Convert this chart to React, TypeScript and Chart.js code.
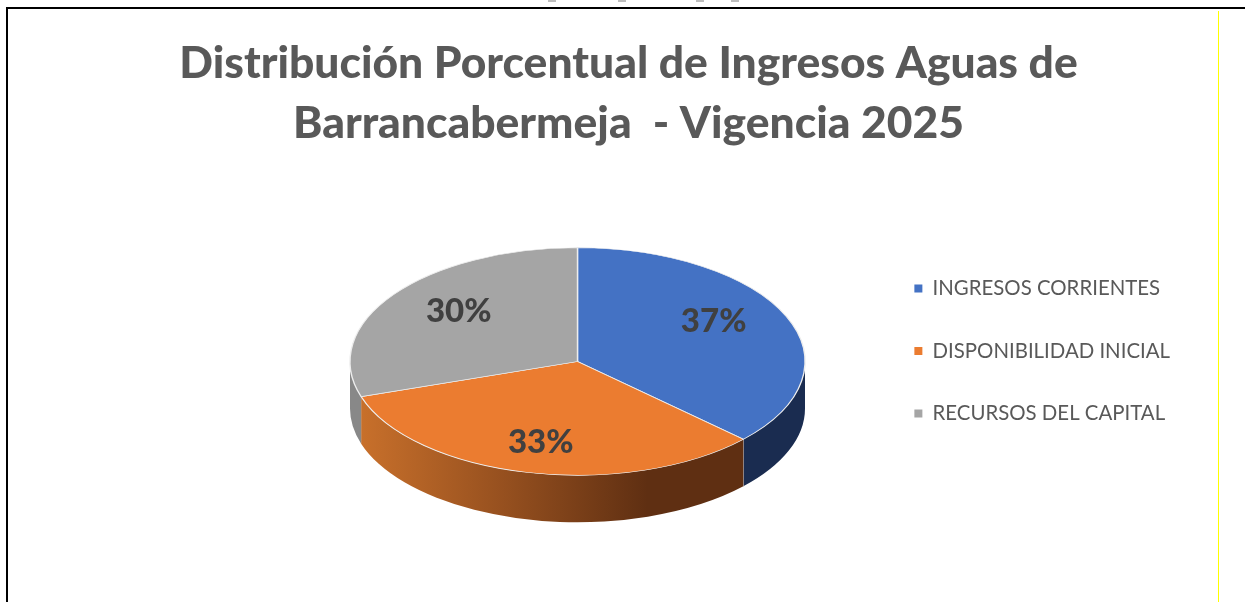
import React, { useEffect, useRef } from "react";
import { Chart, registerables } from "chart.js";

Chart.register(...registerables);

const categories = ["INGRESOS CORRIENTES", "DISPONIBILIDAD INICIAL", "RECURSOS DEL CAPITAL"];
const values = [37, 33, 30];
const topColors = ["#4472C4", "#EB7C30", "#A5A5A5"];
const titleLines = ["Distribución Porcentual de Ingresos Aguas de", "Barrancabermeja  - Vigencia 2025"];

const PIE_CENTER_X = 577.5;
const PIE_CENTER_Y = 361.5;
const PIE_RADIUS = 227.5;
const TILT = 0.5;
const DEPTH = 47;
const labelNudges = [[-10, -9], [-2, 3], [10, -3]];
const clippedTextSpecks = [552, 622, 700, 735];

const wallPaint = (ctx: CanvasRenderingContext2D, i: number) => {
  if (i === 1) {
    const g = ctx.createLinearGradient(PIE_CENTER_X - PIE_RADIUS + 10, 0, PIE_CENTER_X + 70, 0);
    g.addColorStop(0, "#C8702B");
    g.addColorStop(0.5, "#96501F");
    g.addColorStop(1, "#5F2F12");
    return g;
  }
  return i === 0 ? "#1A2C50" : "#888888";
};

const pie3d = {
  id: "pie3d",
  beforeDatasetsDraw(chart: any) {
    const ctx: CanvasRenderingContext2D = chart.ctx;
    const arcs = chart.getDatasetMeta(0).data;
    const a = arcs[0];
    ctx.save();
    arcs.forEach((arc: any, i: number) => {
      // visible part of this slice's side wall: the lower half of the ellipse
      const ranges: [number, number][] = [];
      const two = Math.PI * 2;
      for (const k of [-1, 0, 1]) {
        const s = Math.max(arc.startAngle, k * two);
        const e = Math.min(arc.endAngle, k * two + Math.PI);
        if (e > s) ranges.push([s, e]);
      }
      ranges.forEach(([s, e]) => {
        ctx.beginPath();
        ctx.ellipse(PIE_CENTER_X, PIE_CENTER_Y, PIE_RADIUS, PIE_RADIUS * TILT, 0, s, e);
        ctx.ellipse(PIE_CENTER_X, PIE_CENTER_Y + DEPTH, PIE_RADIUS, PIE_RADIUS * TILT, 0, e, s, true);
        ctx.closePath();
        ctx.fillStyle = wallPaint(ctx, i);
        ctx.fill();
        // seam between neighbouring walls
        if (e < Math.PI && e > 0 && i === 0) {
          const x = PIE_CENTER_X + PIE_RADIUS * Math.cos(e);
          const y = PIE_CENTER_Y + PIE_RADIUS * TILT * Math.sin(e);
          ctx.beginPath();
          ctx.moveTo(x, y);
          ctx.lineTo(x, y + DEPTH);
          ctx.strokeStyle = "#B8BCC4";
          ctx.lineWidth = 1;
          ctx.stroke();
        }
      });
    });
    ctx.restore();
    ctx.save();
    ctx.translate(PIE_CENTER_X, PIE_CENTER_Y);
    ctx.scale(1, TILT);
    ctx.translate(-a.x, -a.y);
  },
  afterDatasetsDraw(chart: any) {
    const ctx: CanvasRenderingContext2D = chart.ctx;
    ctx.restore();
    const arcs = chart.getDatasetMeta(0).data;
    const total = values.reduce((p, v) => p + v, 0);
    ctx.save();
    ctx.font = "900 33px Lato";
    ctx.fillStyle = "#404040";
    ctx.textAlign = "center";
    ctx.textBaseline = "middle";
    arcs.forEach((arc: any, i: number) => {
      const mid = (arc.startAngle + arc.endAngle) / 2;
      const x = PIE_CENTER_X + PIE_RADIUS * 0.7 * Math.cos(mid) + labelNudges[i][0];
      const y = PIE_CENTER_Y + PIE_RADIUS * TILT * 0.7 * Math.sin(mid) + labelNudges[i][1];
      ctx.fillText(`${Math.round((values[i] / total) * 100)}%`, x, y);
    });
    ctx.restore();
  },
};

export default function App() {
  const ref = useRef<HTMLCanvasElement>(null);
  useEffect(() => {
    document.body.style.margin = "0";
    document.body.style.background = "#fff";
    const chart = new Chart(ref.current!, {
      type: "pie",
      plugins: [pie3d],
      data: {
        labels: categories,
        datasets: [
          {
            data: values,
            backgroundColor: topColors,
            borderColor: "#EDEDED",
            borderWidth: 1.4,
            radius: PIE_RADIUS,
          } as any,
        ],
      },
      options: {
        responsive: false,
        animation: false,
        layout: { padding: { left: 77, right: 65, top: 32, bottom: 60 } },
        plugins: {
          tooltip: { enabled: false },
          title: {
            display: true,
            text: titleLines,
            color: "#595959",
            font: { family: "Lato", weight: "900", size: 44.4, lineHeight: 60 / 44.4 },
            padding: { top: 2, bottom: 6 },
          },
          legend: {
            position: "right",
            fullSize: false,
            labels: {
              color: "#595959",
              font: { family: "Lato", size: 20.4 },
              boxWidth: 8,
              boxHeight: 8,
              padding: 42,
              generateLabels(c: any) {
                return categories.map((text, i) => ({
                  text,
                  fillStyle: topColors[i],
                  strokeStyle: topColors[i],
                  lineWidth: 0,
                  index: i,
                  fontColor: "#595959",
                }));
              },
            },
          },
        },
      } as any,
    });
    return () => chart.destroy();
  }, []);
  return (
    <div style={{ position: "relative", width: 1245, height: 602, overflow: "hidden", background: "#fff" }}>
      <canvas ref={ref} width={1245} height={602} style={{ display: "block" }} />
      <div style={{ position: "absolute", left: 6, top: 7, width: 2, height: 595, background: "#000" }} />
      <div style={{ position: "absolute", left: 6, top: 7, width: 1239, height: 2, background: "#000" }} />
      <div style={{ position: "absolute", left: 1218, top: 11, width: 1, height: 591, background: "#FFFF00" }} />
      {clippedTextSpecks.map((x) => (
        <div key={x} style={{ position: "absolute", left: x - 4, top: 0, width: 8, height: 2, background: "#BDBDBD" }} />
      ))}
    </div>
  );
}
